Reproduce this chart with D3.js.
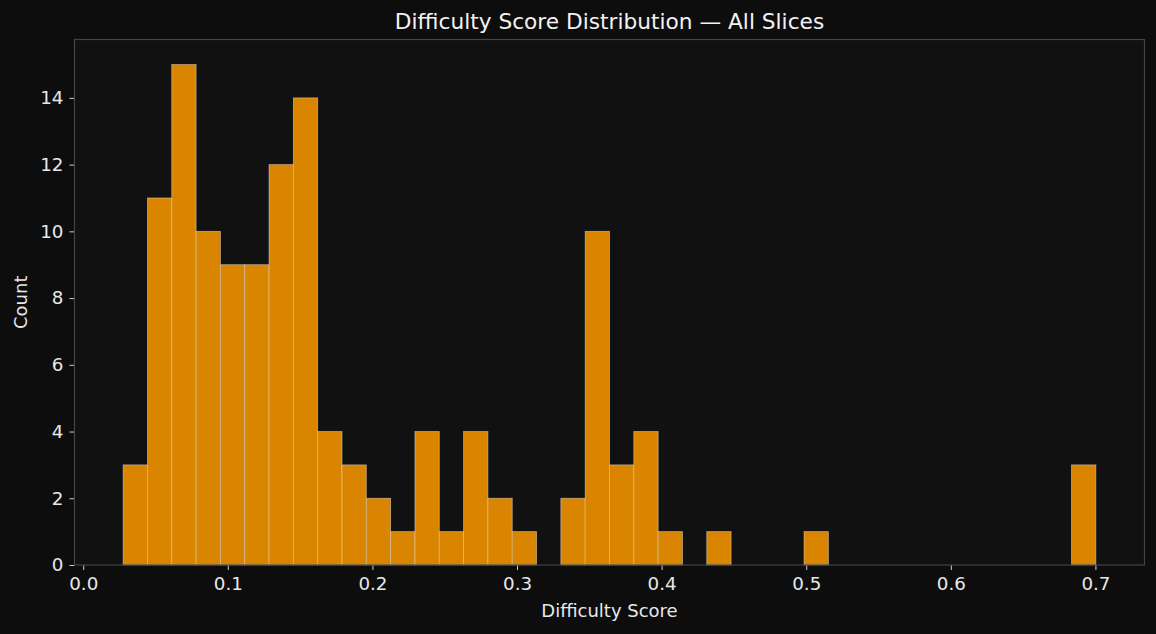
<!DOCTYPE html>
<html>
<head>
<meta charset="utf-8">
<script src="https://cdn.jsdelivr.net/npm/d3@7"></script>
<style>
  html, body { margin: 0; padding: 0; background: #0d0d0d; }
  svg { display: block; font-family: "DejaVu Sans", sans-serif; }
</style>
</head>
<body>
<div id="chart"></div>
<script>
// histogram: 40 equal bins between binLo and binHi
const binLo = 0.0276;
const binHi = 0.7003;
const counts = [3, 11, 15, 10, 9, 9, 12, 14, 4, 3,
                2, 1, 4, 1, 4, 2, 1, 0, 2, 10,
                3, 4, 1, 0, 1, 0, 0, 0, 1, 0,
                0, 0, 0, 0, 0, 0, 0, 0, 0, 3];
const xTicks = [0.0, 0.1, 0.2, 0.3, 0.4, 0.5, 0.6, 0.7];
const yTicks = [0, 2, 4, 6, 8, 10, 12, 14];

const width = 1156;
const height = 634;
const margin = { top: 39.5, right: 11.5, bottom: 69, left: 74.5 };

const svg = d3.select("#chart")
  .append("svg")
  .attr("width", width)
  .attr("height", height);

svg.append("rect")
  .attr("width", width)
  .attr("height", height)
  .attr("fill", "#0d0d0d");

const innerW = width - margin.left - margin.right;
const innerH = height - margin.top - margin.bottom;

const g = svg.append("g")
  .attr("transform", `translate(${margin.left},${margin.top})`);

const pad = (binHi - binLo) * 0.05;
const x = d3.scaleLinear()
  .domain([binLo - pad, binHi + pad])
  .range([0, innerW]);

const y = d3.scaleLinear()
  .domain([0, d3.max(counts) * 1.05])
  .range([innerH, 0]);

g.append("rect")
  .attr("width", innerW)
  .attr("height", innerH)
  .attr("fill", "#111111");

const step = (binHi - binLo) / counts.length;
const bins = counts.map((c, i) => ({ x0: binLo + i * step, x1: binLo + (i + 1) * step, count: c }));

g.selectAll(".bar")
  .data(bins.filter(d => d.count > 0))
  .enter().append("rect")
  .attr("class", "bar")
  .attr("x", d => x(d.x0))
  .attr("y", d => y(d.count))
  .attr("width", d => x(d.x1) - x(d.x0))
  .attr("height", d => y(0) - y(d.count))
  .attr("fill", "#d98500")
  .attr("stroke", "rgba(235,220,200,0.6)")
  .attr("stroke-width", 0.8);

// axes
const xAxis = g.append("g")
  .attr("transform", `translate(0,${innerH})`)
  .call(d3.axisBottom(x).tickValues(xTicks).tickFormat(d3.format(".1f")).tickSize(5).tickPadding(7));

const yAxis = g.append("g")
  .call(d3.axisLeft(y).tickValues(yTicks).tickSize(5).tickPadding(6));

[xAxis, yAxis].forEach(ax => {
  ax.attr("font-family", "DejaVu Sans");
  ax.select(".domain").remove();
  ax.selectAll(".tick line").attr("stroke", "#d0d0d0").attr("stroke-width", 1);
  ax.selectAll(".tick text")
    .attr("fill", "#e8e8e8")
    .style("font-size", "18.3px");
});

// frame
g.append("rect")
  .attr("width", innerW)
  .attr("height", innerH)
  .attr("fill", "none")
  .attr("stroke", "#444444")
  .attr("stroke-width", 1.2);

svg.append("text")
  .attr("x", margin.left + innerW / 2)
  .attr("y", 29)
  .attr("text-anchor", "middle")
  .attr("fill", "#f2f2f2")
  .style("font-size", "21.7px")
  .text("Difficulty Score Distribution — All Slices");

svg.append("text")
  .attr("x", margin.left + innerW / 2)
  .attr("y", 617)
  .attr("text-anchor", "middle")
  .attr("fill", "#e8e8e8")
  .style("font-size", "18px")
  .text("Difficulty Score");

svg.append("text")
  .attr("transform", `translate(27,${margin.top + innerH / 2}) rotate(-90)`)
  .attr("text-anchor", "middle")
  .attr("fill", "#e8e8e8")
  .style("font-size", "18px")
  .text("Count");
</script>
</body>
</html>
